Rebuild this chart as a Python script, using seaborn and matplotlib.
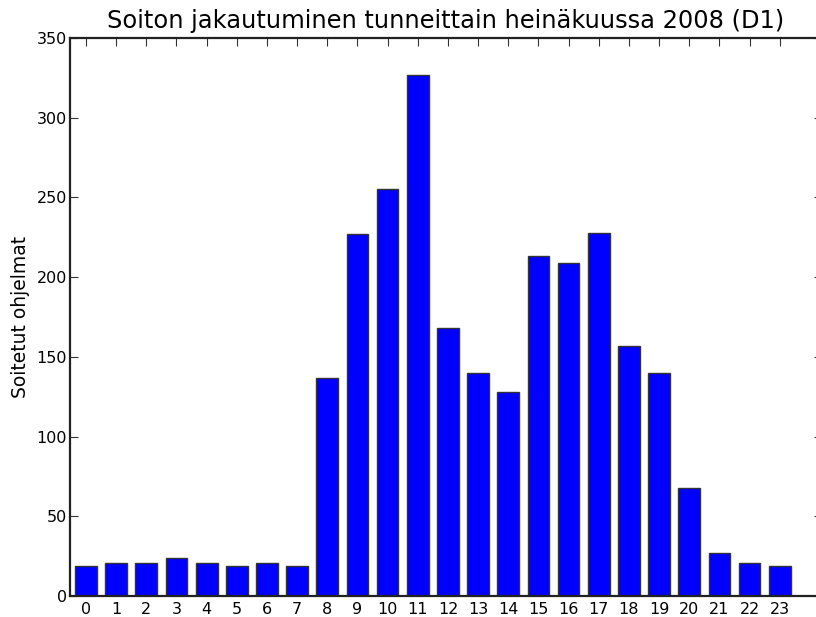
import matplotlib
matplotlib.use("Agg")
import matplotlib.pyplot as plt
import seaborn as sns

# Soitetut ohjelmat tunneittain (heinäkuu 2008, D1)
hours = list(range(24))
counts = [19, 21, 21, 24, 21, 19, 21, 19, 137, 227, 255, 327,
          168, 140, 128, 213, 209, 228, 157, 140, 68, 27, 21, 19]

sns.set_style("ticks")
plt.rcParams["font.family"] = ["DejaVu Sans"]
plt.rcParams["text.color"] = "black"
plt.rcParams["axes.labelcolor"] = "black"
plt.rcParams["xtick.color"] = "black"
plt.rcParams["ytick.color"] = "black"

fig = plt.figure(figsize=(8.16, 6.17), dpi=100)
ax = fig.add_axes([70 / 816, 1 - 596 / 617, 752 / 816, 558 / 617])

sns.barplot(x=hours, y=counts, color="#0000ff", saturation=1, width=0.72,
            edgecolor="#333333", linewidth=1, ax=ax)

ax.set_xlim(-0.53, 24.4)
ax.set_ylim(0, 350)
ax.set_yticks(range(0, 351, 50))
ax.set_xticks(hours)
ax.set_xticklabels([str(h) for h in hours])

ax.tick_params(direction="in", length=6, width=0.8, color="#333333",
               top=True, right=True, labelsize=11.5, labelcolor="black")
ax.tick_params(axis="y", pad=2)
ax.tick_params(axis="x", pad=4)
for s in ax.spines.values():
    s.set_visible(True)
    s.set_linewidth(1.6)
    s.set_color("#222222")

ax.set_title("Soiton jakautuminen tunneittain heinäkuussa 2008 (D1)",
             fontsize=17.4, pad=7, color="black")
ax.set_ylabel("Soitetut ohjelmat", fontsize=13.5, labelpad=5, color="black")
ax.set_xlabel("")

fig.savefig("out.png", dpi=100)
